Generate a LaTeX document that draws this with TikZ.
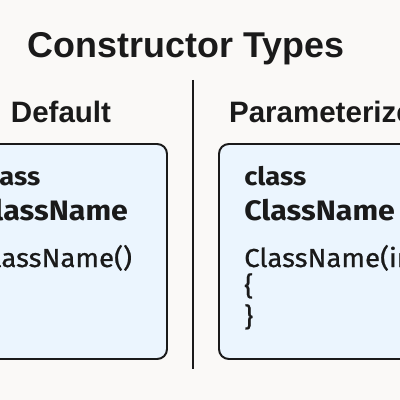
\documentclass[tikz,border=0pt]{standalone}
\usepackage{fontspec}
\setmainfont{Liberation Sans}
\newfontfamily\codefont[FakeStretch=1.08]{Fira Sans}
\newfontfamily\codemedium[FakeStretch=1.06, FakeBold=0.8]{Fira Sans}
\usepackage{xcolor}
\usetikzlibrary{positioning}
\definecolor{paper}{HTML}{FAF9F7}
\definecolor{boxfill}{HTML}{EBF5FE}
\definecolor{ink}{HTML}{1A1A1A}

\begin{document}
\begin{tikzpicture}[x=0.025cm, y=-0.025cm,
    title/.style={anchor=base, inner sep=0pt, text=ink, font=\bfseries\fontsize{25.5}{30}\selectfont},
    heading/.style={anchor=base, inner sep=0pt, text=ink, font=\bfseries\fontsize{21}{25}\selectfont},
    codebox/.style={draw=ink, line width=1.4pt, fill=boxfill, rounded corners=7pt},
    kw/.style={anchor=base west, inner sep=0pt, text=ink, font=\codefont\bfseries\fontsize{18}{21}\selectfont},
    cname/.style={anchor=base west, inner sep=0pt, text=ink, font=\codefont\bfseries\fontsize{20}{24}\selectfont},
    code/.style={anchor=base west, inner sep=0pt, text=ink, font=\codemedium\fontsize{18.5}{22}\selectfont}]
    \useasboundingbox (0,0) rectangle (400,400);
    \clip (0,0) rectangle (400,400);
    \fill[paper] (0,0) rectangle (400,400);

    \node[title] (title) at (186,58) {Constructor Types};
    \node[heading] (default) at (61,122) {Default};
    \node[heading] (param) at (330,122) {Parameterized};

    \coordinate (divtop) at (193,80);
    \coordinate (divbot) at (193,369);
    \draw[ink, line width=1.4pt] (divtop) -- (divbot);

    \draw[codebox] (-47,144) rectangle (167,359);
    \draw[codebox] (219,144) rectangle (433,359);

    \node[kw] (lclass) at (-22,185) {class};
    \node[cname] (lname) at (-23,220) {ClassName};
    \node[code] (lctor) at (-22,267) {ClassName()};

    \node[kw] (rclass) at (244,185) {class};
    \node[cname] (rname) at (244,220) {ClassName};
    \node[code] (rctor) at (244,267) {ClassName(int value)};
    \node[code] (ropen) at (244,295) {\{};
    \node[code] (rclose) at (244,326) {\}};
\end{tikzpicture}
\end{document}
